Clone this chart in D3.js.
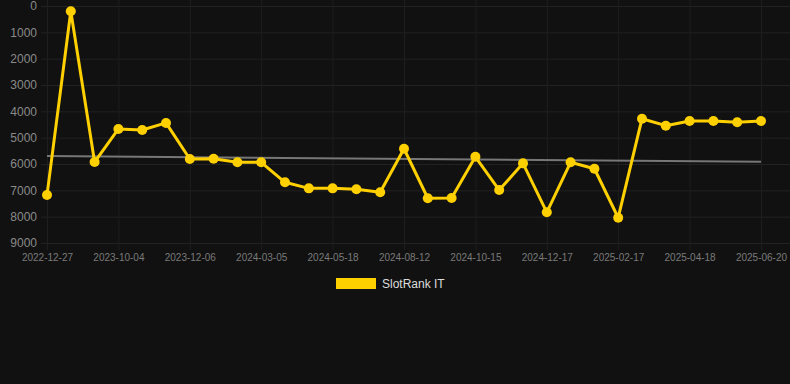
<!DOCTYPE html>
<html>
<head>
<meta charset="utf-8">
<script src="https://cdn.jsdelivr.net/npm/d3@7"></script>
<style>
  html, body { margin: 0; padding: 0; background: #111111; }
  svg { display: block; font-family: Arial, "Liberation Sans", sans-serif; }
</style>
</head>
<body>
<svg id="chart" width="790" height="384"></svg>
<script>
// rank per snapshot (lower is better, axis is reversed)
const rankValues = [7180, 200, 5925, 4670, 4710, 4440, 5810, 5800, 5935, 5935,
  6695, 6925, 6925, 6960, 7075, 5420, 7300, 7290, 5725, 6990,
  5975, 7835, 5935, 6180, 8040, 4280, 4545, 4370, 4370, 4415, 4370];
const tickLabels = ["2022-12-27", "2023-10-04", "2023-12-06", "2024-03-05", "2024-05-18",
  "2024-08-12", "2024-10-15", "2024-12-17", "2025-02-17", "2025-04-18", "2025-06-20"];
const yTicks = [0, 1000, 2000, 3000, 4000, 5000, 6000, 7000, 8000, 9000];
const trendValues = [5697, 5913];
const seriesName = "SlotRank IT";

const svg = d3.select("#chart"),
  width = +svg.attr("width");

const x = d3.scalePoint()
  .domain(d3.range(rankValues.length))
  .range([47, 761]);

const y = d3.scaleLinear()
  .domain([0, 9000])
  .range([6, 243]);

const labelStep = 3;

// grid
const grid = svg.append("g");
grid.selectAll("line.h")
  .data(yTicks)
  .enter().append("line")
  .attr("x1", 41).attr("x2", 790)
  .attr("y1", d => y(d) + 0.5).attr("y2", d => y(d) + 0.5)
  .attr("stroke", "#222222");
grid.selectAll("line.v")
  .data(tickLabels.map((d, i) => i * labelStep))
  .enter().append("line")
  .attr("x1", d => x(d) + 0.5).attr("x2", d => x(d) + 0.5)
  .attr("y1", 0).attr("y2", 250)
  .attr("stroke", "#1e1e1e");

// y axis
const yAxis = svg.append("g")
  .attr("transform", "translate(37,0)")
  .call(d3.axisLeft(y).tickValues(yTicks).tickSize(0).tickPadding(0).tickFormat(d3.format("d")));
yAxis.select(".domain").remove();
yAxis.selectAll("text").attr("fill", "#8a8a8a").attr("font-size", 12);

// x axis
const xAxis = svg.append("g")
  .attr("transform", "translate(0,250)")
  .call(d3.axisBottom(x)
    .tickValues(tickLabels.map((d, i) => i * labelStep))
    .tickSize(0).tickPadding(4)
    .tickFormat(d => tickLabels[d / labelStep]));
xAxis.select(".domain").remove();
xAxis.selectAll("text").attr("fill", "#7a7a7a").attr("font-size", 10);

// trend line
svg.append("line")
  .attr("x1", x(0)).attr("x2", x(rankValues.length - 1))
  .attr("y1", y(trendValues[0])).attr("y2", y(trendValues[1]))
  .attr("stroke", "#777777")
  .attr("stroke-width", 2);

// series
const line = d3.line()
  .x((d, i) => x(i))
  .y(d => y(d));

svg.append("path")
  .datum(rankValues)
  .attr("fill", "none")
  .attr("stroke", "#ffd000")
  .attr("stroke-width", 3)
  .attr("stroke-linejoin", "round")
  .attr("d", line);

svg.append("g")
  .selectAll("circle")
  .data(rankValues)
  .enter().append("circle")
  .attr("cx", (d, i) => x(i))
  .attr("cy", d => y(d))
  .attr("r", 5)
  .attr("fill", "#ffd000");

// legend
const legend = svg.append("g").attr("transform", "translate(336,278)");
legend.append("rect")
  .attr("width", 40).attr("height", 11)
  .attr("fill", "#ffd000");
legend.append("text")
  .attr("x", 46).attr("y", 10)
  .attr("fill", "#dddddd")
  .attr("font-size", 12)
  .text(seriesName);
</script>
</body>
</html>
